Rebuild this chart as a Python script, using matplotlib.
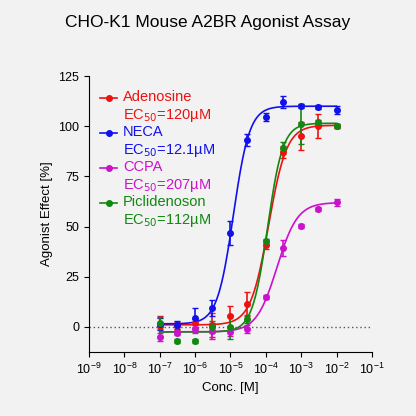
import numpy as np
import matplotlib
matplotlib.use("Agg")
import matplotlib.pyplot as plt

plt.rcParams["font.family"] = ["Liberation Sans", "DejaVu Sans"]

conc = np.array([1e-7, 3e-7, 1e-6, 3e-6, 1e-5, 3e-5, 1e-4, 3e-4, 1e-3, 3e-3, 1e-2])

names = ["Adenosine", "NECA", "CCPA", "Piclidenoson"]
ec50_labels = ["120µM", "12.1µM", "207µM", "112µM"]
colors = ["#ee1111", "#1111ee", "#cc11cc", "#118811"]

adenosine = [0.5, 0.5, 2, 1, 5.5, 11.5, 41, 87, 95, 100, 100]
neca = [1.5, 1, 4.5, 9.5, 47, 93, 104.5, 112, 110, 109.5, 108]
ccpa = [-5, -3, -1, -2, -2.5, -1, 15, 39.5, 50.5, 59, 62]
picli = [2, -7, -7, 0, 0, 4, 43, 89, 101, 102, 100]

adenosine_err = [5, 2, 2, 6, 5, 6, 2, 3, 7, 6, 1]
neca_err = [3, 2, 5, 4, 6, 3, 2, 3, 1, 1, 2]
ccpa_err = [2, 1, 2, 4, 2, 2, 1, 4, 1, 1, 1.5]
picli_err = [3, 1, 1, 3, 6, 2, 1, 3, 10, 1, 1]

# 4PL fit parameters: bottom, top, ec50, hill
fits = [(1, 100.5, 120e-6, 1.7), (1.5, 110, 12.1e-6, 1.9),
        (-2.5, 62, 207e-6, 1.5), (-2.5, 101.5, 112e-6, 2.0)]

series = [adenosine, neca, ccpa, picli]
errs = [adenosine_err, neca_err, ccpa_err, picli_err]

fig = plt.figure(figsize=(4.16, 4.16), dpi=100, facecolor="#f2f2f2")
ax = fig.add_axes([0.214, 0.154, 0.68, 0.663])
ax.set_facecolor("#f2f2f2")

xs = np.logspace(-7, -2, 300)
for y, e, (b, t, ec, h), c in zip(series, errs, fits, colors):
    ax.errorbar(conc, y, yerr=e, fmt="o", color=c, ms=4, capsize=2.5, elinewidth=1.2)
    ax.plot(xs, b + (t - b) / (1 + (ec / xs) ** h), color=c, lw=1.2)

ax.axhline(0, color="#555555", ls=(0, (1, 2)), lw=1)
ax.set_xscale("log")
ax.set_xlim(1e-9, 1e-1)
ax.set_ylim(-12.5, 125)
ax.set_xticks([10.0 ** k for k in range(-9, 0)])
ax.set_yticks([0, 25, 50, 75, 100, 125])
ax.tick_params(labelsize=9)
for s in ["top", "right"]:
    ax.spines[s].set_visible(False)
ax.set_xlabel("Conc. [M]", fontsize=9.5)
ax.set_ylabel("Agonist Effect [%]", fontsize=9.5)
fig.suptitle("CHO-K1 Mouse A2BR Agonist Assay", fontsize=12.5, y=0.965)

for i, (n, l, c) in enumerate(zip(names, ec50_labels, colors)):
    ty = 0.95 - i * 0.127
    ax.plot([0.04, 0.1], [ty - 0.03] * 2, color=c, lw=1.2, transform=ax.transAxes)
    ax.plot([0.07], [ty - 0.03], "o", color=c, ms=4, transform=ax.transAxes)
    ax.text(0.12, ty, n, transform=ax.transAxes, color=c, fontsize=10.5, va="top")
    ax.text(0.12, ty - 0.063, "EC$_{50}$=" + l, transform=ax.transAxes, color=c,
            fontsize=10.5, va="top")

fig.savefig("out.png", dpi=100, facecolor=fig.get_facecolor())
